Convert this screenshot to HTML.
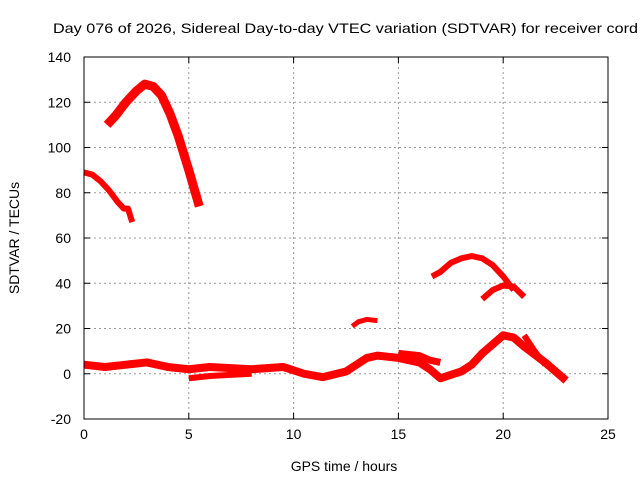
<!DOCTYPE html>
<html><head><meta charset="utf-8"><style>
body{margin:0;background:#fff;}
svg{display:block;font-family:"Liberation Sans",sans-serif;}
</style></head><body>
<svg id="c" width="640" height="480">
<rect width="640" height="480" fill="#fff"/>
<text x="53" y="33" font-size="14" textLength="585" lengthAdjust="spacingAndGlyphs">Day 076 of 2026, Sidereal Day-to-day VTEC variation (SDTVAR) for receiver cord</text>
<text x="344" y="471" font-size="14" text-anchor="middle">GPS time / hours</text>
<text transform="translate(19,238) rotate(-90)" font-size="14" text-anchor="middle">SDTVAR / TECUs</text>
<g id="grid"></g><g id="marks"></g><g id="axes"></g>
</svg>
<script>
const xTicks=[0,5,10,15,20,25];
const yTicks=[-20,0,20,40,60,80,100,120,140];
const segTop=[[1.1,110],[1.5,114],[2,120],[2.5,125],[2.9,128],[3.3,127],[3.7,123],[4.1,115],[4.5,105],[5.0,90],[5.5,74]];
const segEarly=[[0,89],[0.4,88],[0.8,85],[1.2,81],[1.6,76],[1.9,73],[2.1,73],[2.2,70],[2.3,67]];
const segMid=[[12.8,21],[13.1,23],[13.5,24],[14,23.5]];
const segArcHigh=[[16.6,43],[17,45],[17.5,49],[18,51],[18.5,52],[19,51],[19.5,48],[20,43],[20.5,37]];
const segArcLow=[[19,33],[19.5,37],[20,39],[20.5,38.5],[21,34]];
const segBase=[[0,4],[1,3],[2,4],[3,5],[4,3],[5,2],[6,3],[8,2],[9.5,3],[10.5,0],[11.4,-1.5],[12.5,1],[13,4],[13.5,7],[14,8],[15,7],[16,5],[16.5,2],[17,-2],[18,1],[18.5,4],[19,9],[20,17],[20.5,16],[21,12],[22,5],[23,-3]];
const segBase2=[[5,-2],[6,-1],[8,0]];
const segBase3=[[15,9],[16,8],[16.5,6],[17,5]];
const segBase4=[[21,17],[21.5,10],[22,4]];
const segments=[segTop,segEarly,segMid,segArcHigh,segArcLow,segBase,segBase2,segBase3,segBase4];
const widths=[9,6,5,6,6,8,6,7,6];
const X0=84,X1=608,Y0=419,Y1=57;
const xs=v=>X0+(v-0)/25*(X1-X0);
const ys=v=>Y0-(v+20)/160*(Y0-Y1);
const NS="http://www.w3.org/2000/svg";
const grid=document.getElementById('grid'),axes=document.getElementById('axes'),marks=document.getElementById('marks');
function mk(tag,attrs,parent){const e=document.createElementNS(NS,tag);for(const k in attrs)e.setAttribute(k,attrs[k]);parent.appendChild(e);return e;}
xTicks.forEach(t=>{
 if(t>0&&t<25){const g=mk('line',{x1:xs(t),x2:xs(t),y1:Y1,y2:Y0,stroke:'#999','stroke-dasharray':'2,3'},grid);
 
 }
 const l=mk('text',{x:xs(t),y:Y0+20,'font-size':14,'text-anchor':'middle'},axes);l.textContent=t;
 
 
 mk('line',{x1:xs(t),x2:xs(t),y1:Y0,y2:Y0-6,stroke:'#000'},axes);
 mk('line',{x1:xs(t),x2:xs(t),y1:Y1,y2:Y1+6,stroke:'#000'},axes);
});
yTicks.forEach(t=>{
 if(t>-20&&t<140){const g=mk('line',{x1:X0,x2:X1,y1:ys(t),y2:ys(t),stroke:'#999','stroke-dasharray':'2,3'},grid);
 
 }
 const l=mk('text',{x:X0-13,y:ys(t)+5,'font-size':14,'text-anchor':'end'},axes);l.textContent=t;
 
 
 mk('line',{x1:X0,x2:X0+6,y1:ys(t),y2:ys(t),stroke:'#000'},axes);
 mk('line',{x1:X1,x2:X1-6,y1:ys(t),y2:ys(t),stroke:'#000'},axes);
});
const fr=mk('rect',{x:X0,y:Y1,width:X1-X0,height:Y0-Y1,fill:'none',stroke:'#000'},axes);


segments.forEach((s,i)=>{
 const p=mk('polyline',{points:s.map(d=>xs(d[0])+','+ys(d[1])).join(' '),fill:'none',stroke:'#f00','stroke-width':widths[i],'stroke-linejoin':'round','stroke-linecap':'butt'},marks);
 
 
});
</script>
</body></html>
